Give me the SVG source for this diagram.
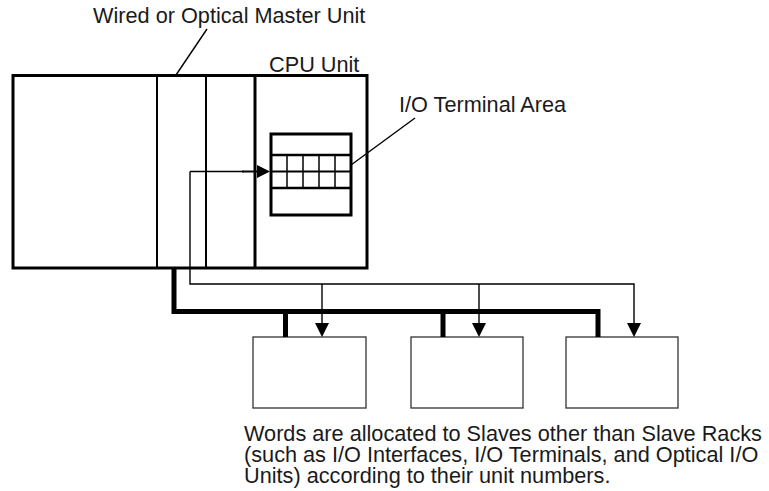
<svg xmlns="http://www.w3.org/2000/svg" width="769" height="491" viewBox="0 0 769 491">
<style>
text{font-family:"Liberation Sans",Arial,sans-serif;font-size:21.7px;fill:#1a1a1a}
.thin{fill:none;stroke:#000;stroke-width:1.4}
.bus{fill:none;stroke:#000;stroke-width:5;stroke-linejoin:miter}
.slave{fill:#fff;stroke:#333;stroke-width:1.3}
.ah{fill:#000}
</style>
<rect width="769" height="491" fill="#fff"/>
<g id="rack">
<rect x="13" y="75.5" width="354" height="192.5" fill="#fff" stroke="#000" stroke-width="3"/>
<line x1="157" y1="75.5" x2="157" y2="268" stroke="#000" stroke-width="2"/>
<line x1="206" y1="75.5" x2="206" y2="268" stroke="#000" stroke-width="2"/>
<line x1="255" y1="75.5" x2="255" y2="268" stroke="#000" stroke-width="3"/>
</g>
<g id="io-area">
<rect x="271" y="134" width="80" height="81" fill="#fff" stroke="#000" stroke-width="3"/>
<line x1="271" y1="155" x2="351" y2="155" stroke="#000" stroke-width="2.5"/>
<line x1="271" y1="171.5" x2="351" y2="171.5" stroke="#000" stroke-width="2"/>
<line x1="271" y1="188" x2="351" y2="188" stroke="#000" stroke-width="2.5"/>
<g stroke="#000" stroke-width="1.5">
<line x1="287" y1="155" x2="287" y2="188"/>
<line x1="303" y1="155" x2="303" y2="188"/>
<line x1="319" y1="155" x2="319" y2="188"/>
<line x1="335" y1="155" x2="335" y2="188"/>
</g>
</g>
<g id="slave1"><rect class="slave" x="253" y="337" width="113" height="71"/></g>
<g id="slave2"><rect class="slave" x="411" y="337" width="112" height="71"/></g>
<g id="slave3"><rect class="slave" x="566" y="337" width="112" height="71"/></g>
<g id="connectors">
<path class="bus" d="M174,268 V311.5 H598 V337"/>
<path class="bus" d="M285.5,311.5 V337"/>
<path class="bus" d="M443,311.5 V337"/>
<path class="thin" d="M190,171.5 V284 H634 V324"/>
<path class="thin" d="M322,284 V324"/>
<path class="thin" d="M479,284 V324"/>
<path d="M242,171.5 H258" stroke="#000" stroke-width="2"/>
<path class="thin" d="M190,171.5 H244"/>
<polygon class="ah" points="257,165 270,171.5 257,178"/>
<polygon class="ah" points="315,323 329,323 322,337"/>
<polygon class="ah" points="472,323 486,323 479,337"/>
<polygon class="ah" points="627,323 641,323 634,337"/>
<line class="thin" x1="207" y1="29" x2="176" y2="75"/>
<line class="thin" x1="415" y1="118" x2="351" y2="165"/>
</g>
<g id="labels">
<text x="93" y="23">Wired or Optical Master Unit</text>
<text x="269" y="72">CPU Unit</text>
<text x="399" y="112">I/O Terminal Area</text>
<text x="244" y="441">Words are allocated to Slaves other than Slave Racks<tspan x="244" y="462">(such as I/O Interfaces, I/O Terminals, and Optical I/O</tspan><tspan x="244" y="483">Units) according to their unit numbers.</tspan></text>
</g>
</svg>
